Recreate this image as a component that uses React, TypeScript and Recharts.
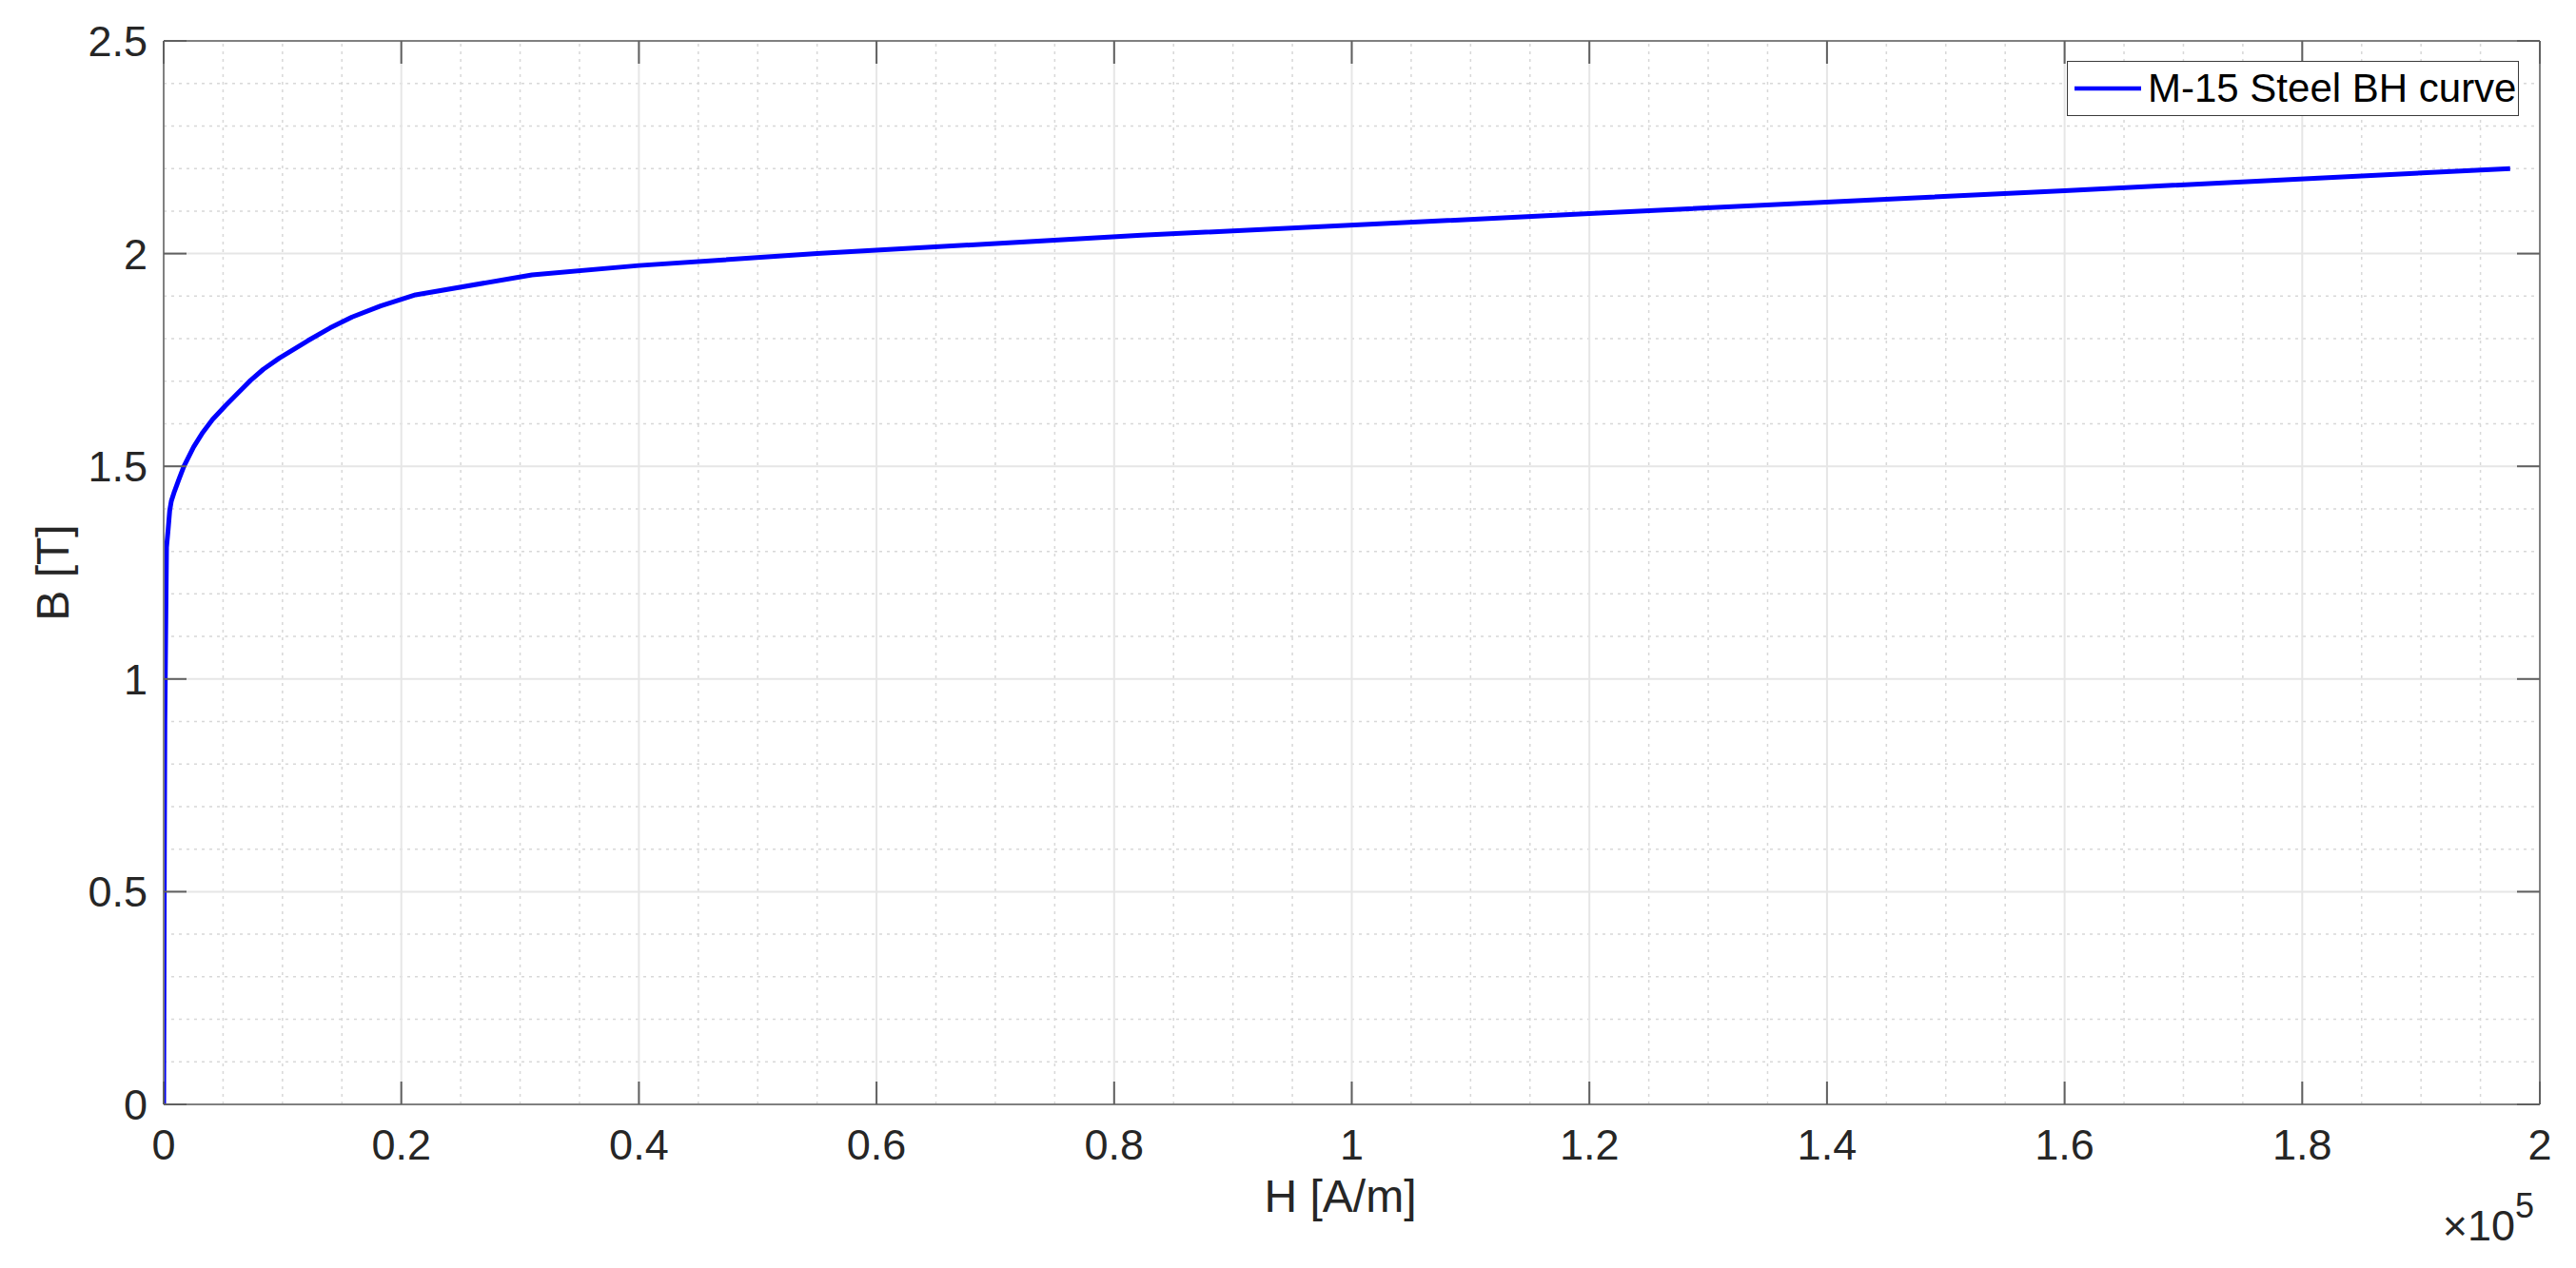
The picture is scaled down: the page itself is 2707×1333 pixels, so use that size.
import React from 'react';
import { LineChart, Line, XAxis, YAxis, ReferenceLine, Legend } from 'recharts';

// Magnetic field strength H [A/m] and flux density B [T]
const H_VALUES = [0, 30, 60, 100, 150, 200, 240, 376, 508, 641, 908, 1306, 1707, 2510, 3300, 4112, 5180, 6248, 7313, 8385, 9716, 12120, 13995, 15860, 18262, 21200, 31000, 40000, 55000, 82300, 120000, 160000, 197500];
const B_VALUES = [0, 0.3, 0.6, 0.9, 1.05, 1.2, 1.31, 1.351, 1.396, 1.418, 1.441, 1.471, 1.5, 1.545, 1.58, 1.61, 1.642, 1.672, 1.702, 1.728, 1.754, 1.795, 1.825, 1.851, 1.877, 1.903, 1.95, 1.972, 2.0, 2.043, 2.094, 2.148, 2.2];

const SERIES_NAME = 'M-15 Steel BH curve';

const X_TICKS = [0, 20000, 40000, 60000, 80000, 100000, 120000, 140000, 160000, 180000, 200000];
const X_TICK_LABELS = ['0', '0.2', '0.4', '0.6', '0.8', '1', '1.2', '1.4', '1.6', '1.8', '2'];
const X_MINOR = [5000, 10000, 15000, 25000, 30000, 35000, 45000, 50000, 55000, 65000, 70000, 75000, 85000, 90000, 95000, 105000, 110000, 115000, 125000, 130000, 135000, 145000, 150000, 155000, 165000, 170000, 175000, 185000, 190000, 195000];

const Y_TICKS = [0, 0.5, 1, 1.5, 2, 2.5];
const Y_TICK_LABELS = ['0', '0.5', '1', '1.5', '2', '2.5'];
const Y_MINOR = [0.1, 0.2, 0.3, 0.4, 0.6, 0.7, 0.8, 0.9, 1.1, 1.2, 1.3, 1.4, 1.6, 1.7, 1.8, 1.9, 2.1, 2.2, 2.3, 2.4];

const X_LABEL = 'H [A/m]';
const Y_LABEL = 'B [T]';
const X_EXPONENT_BASE = '×10';
const X_EXPONENT = '5';

const data = H_VALUES.map((h, i) => ({ H: h, B: B_VALUES[i] }));

const TEXT = '#262626';
const AXIS = '#808080';
const TICK = '#606060';
const MAJOR_GRID = '#e6e6e6';
const MINOR_GRID = '#d8d8d8';
const FONT = '"Liberation Sans", Arial, Helvetica, sans-serif';
const TICK_FONT = 45;
const LABEL_FONT = 48;
const LEGEND_FONT = 42;
const TICK_LEN = 24;

const BottomTick = (props: any) => {
  const { x, y, payload } = props;
  const idx = X_TICKS.indexOf(payload.value);
  return (
    <g>
      <line x1={x} y1={y} x2={x} y2={y - TICK_LEN} stroke={TICK} strokeWidth={2} />
      <text x={x} y={y + 58} textAnchor="middle" fontSize={TICK_FONT} fill={TEXT} fontFamily={FONT}>
        {idx >= 0 ? X_TICK_LABELS[idx] : ''}
      </text>
    </g>
  );
};

const TopTick = (props: any) => {
  const { x, y } = props;
  return <line x1={x} y1={y} x2={x} y2={y + TICK_LEN} stroke={TICK} strokeWidth={2} />;
};

const LeftTick = (props: any) => {
  const { x, y, payload } = props;
  const idx = Y_TICKS.indexOf(payload.value);
  return (
    <g>
      <line x1={x} y1={y} x2={x + TICK_LEN} y2={y} stroke={TICK} strokeWidth={2} />
      <text x={x - 17} y={y + 16} textAnchor="end" fontSize={TICK_FONT} fill={TEXT} fontFamily={FONT}>
        {idx >= 0 ? Y_TICK_LABELS[idx] : ''}
      </text>
    </g>
  );
};

const RightTick = (props: any) => {
  const { x, y } = props;
  return <line x1={x} y1={y} x2={x - TICK_LEN} y2={y} stroke={TICK} strokeWidth={2} />;
};

const XLabelContent = (props: any) => {
  const vb = props.viewBox || { x: 172, y: 1161, width: 2497, height: 1 };
  const cx = vb.x + vb.width / 2 - 12;
  const right = vb.x + vb.width;
  return (
    <g>
      <text x={cx} y={vb.y + 113} textAnchor="middle" fontSize={LABEL_FONT} fill={TEXT} fontFamily={FONT}>
        {X_LABEL}
      </text>
      <text x={right - 6} y={vb.y + 143} textAnchor="end" fontSize={TICK_FONT} fill={TEXT} fontFamily={FONT}>
        {X_EXPONENT_BASE}
        <tspan dy={-24} fontSize={36}>{X_EXPONENT}</tspan>
      </text>
    </g>
  );
};

const YLabelContent = (props: any) => {
  const vb = props.viewBox || { x: 171, y: 43, width: 1, height: 1118 };
  const cy = vb.y + vb.height / 2;
  const bx = vb.x + vb.width - 100;
  return (
    <text
      x={bx}
      y={cy}
      transform={`rotate(-90 ${bx} ${cy})`}
      textAnchor="middle"
      fontSize={LABEL_FONT}
      fill={TEXT}
      fontFamily={FONT}
    >
      {Y_LABEL}
    </text>
  );
};

const LegendContent = () => (
  <div
    style={{
      boxSizing: 'border-box',
      width: 475,
      height: 58,
      border: '1.5px solid #3a3a3a',
      background: '#ffffff',
      display: 'flex',
      alignItems: 'center',
      paddingLeft: 7,
      fontFamily: FONT,
      fontSize: LEGEND_FONT,
      color: '#000000',
      whiteSpace: 'nowrap',
    }}
  >
    <svg width={72} height={20} style={{ display: 'block' }}>
      <line x1={0} y1={10} x2={70} y2={10} stroke="#0000ff" strokeWidth={4.5} />
    </svg>
    <span style={{ marginLeft: 5, lineHeight: 1 }}>{SERIES_NAME}</span>
  </div>
);

export default function App() {
  return (
    <div
      style={{
        position: 'absolute',
        left: 0,
        top: 0,
        width: 2707,
        height: 1333,
        background: '#ffffff',
        fontFamily: FONT,
      }}
    >
      <LineChart width={2707} height={1333} data={data} margin={{ top: 42, right: 37, bottom: 171, left: 171 }}>
        <XAxis
          xAxisId="bottom"
          dataKey="H"
          type="number"
          domain={[0, 200000]}
          ticks={X_TICKS}
          interval={0}
          height={1}
          tickSize={0}
          tickMargin={0}
          tickLine={false}
          tick={<BottomTick />}
          axisLine={{ stroke: AXIS, strokeWidth: 2 }}
          allowDataOverflow
          label={{ content: <XLabelContent /> }}
        />
        <XAxis
          xAxisId="top"
          orientation="top"
          dataKey="H"
          type="number"
          domain={[0, 200000]}
          ticks={X_TICKS}
          interval={0}
          height={1}
          tickSize={0}
          tickMargin={0}
          tickLine={false}
          tick={<TopTick />}
          axisLine={{ stroke: AXIS, strokeWidth: 2 }}
          allowDataOverflow
        />
        <YAxis
          yAxisId="left"
          type="number"
          domain={[0, 2.5]}
          ticks={Y_TICKS}
          interval={0}
          width={1}
          tickSize={0}
          tickMargin={0}
          tickLine={false}
          tick={<LeftTick />}
          axisLine={{ stroke: AXIS, strokeWidth: 2 }}
          allowDataOverflow
          label={{ content: <YLabelContent /> }}
        />
        <YAxis
          yAxisId="right"
          orientation="right"
          type="number"
          domain={[0, 2.5]}
          ticks={Y_TICKS}
          interval={0}
          width={1}
          tickSize={0}
          tickMargin={0}
          tickLine={false}
          tick={<RightTick />}
          axisLine={{ stroke: AXIS, strokeWidth: 2 }}
          allowDataOverflow
        />

        {X_MINOR.map((v) => (
          <ReferenceLine
            key={`xm${v}`}
            x={v}
            xAxisId="bottom"
            yAxisId="left"
            stroke={MINOR_GRID}
            strokeWidth={1.5}
            strokeDasharray="3 5"
          />
        ))}
        {Y_MINOR.map((v) => (
          <ReferenceLine
            key={`ym${v}`}
            y={v}
            xAxisId="bottom"
            yAxisId="left"
            stroke={MINOR_GRID}
            strokeWidth={1.5}
            strokeDasharray="3 5"
          />
        ))}
        {X_TICKS.slice(1, -1).map((v) => (
          <ReferenceLine key={`xM${v}`} x={v} xAxisId="bottom" yAxisId="left" stroke={MAJOR_GRID} strokeWidth={2} />
        ))}
        {Y_TICKS.slice(1, -1).map((v) => (
          <ReferenceLine key={`yM${v}`} y={v} xAxisId="bottom" yAxisId="left" stroke={MAJOR_GRID} strokeWidth={2} />
        ))}

        <Line
          xAxisId="bottom"
          yAxisId="left"
          type="linear"
          dataKey="B"
          name={SERIES_NAME}
          stroke="#0000ff"
          strokeWidth={5}
          strokeLinejoin="round"
          dot={false}
          activeDot={false}
          isAnimationActive={false}
        />
        <Legend
          layout="horizontal"
          verticalAlign="middle"
          align="center"
          content={<LegendContent />}
          wrapperStyle={{ position: 'absolute', left: 2172, top: 64, width: 475, height: 58, right: 'auto', bottom: 'auto' }}
        />
      </LineChart>
    </div>
  );
}
